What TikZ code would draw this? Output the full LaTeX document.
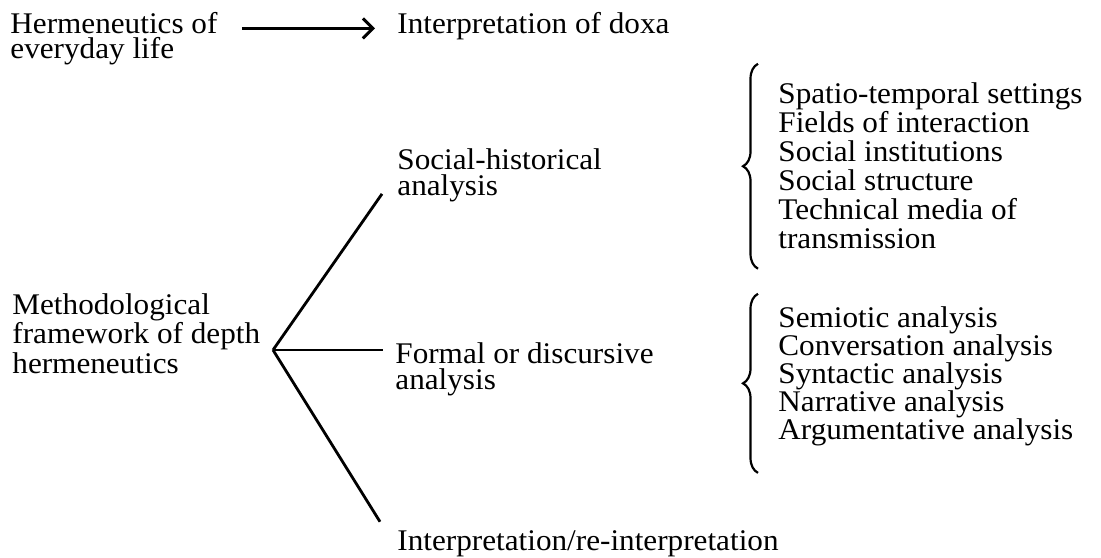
\documentclass[tikz,border=0pt]{standalone}
\usepackage{fontspec}
\setmainfont{Liberation Serif}[FakeStretch=1.04]
\usetikzlibrary{arrows.meta}
\usetikzlibrary{decorations.pathreplacing}

\begin{document}
\begin{tikzpicture}[x=0.5pt, y=-0.5pt,
    txt/.style={anchor=base west, inner sep=0pt, align=left, font=\fontsize{15}{12.5}\selectfont},
    pair/.style={txt, font=\fontsize{15}{13}\selectfont},
    lst/.style={txt, font=\fontsize{15}{14.5}\selectfont},
    branch/.style={line width=1.4pt},
    curly/.style={decorate, decoration={brace, amplitude=7.5pt}, line width=1.1pt},
  ]
  \useasboundingbox (0,0) rectangle (1101,557);

  \node[txt] (everyday) at (10,58) {Hermeneutics of\\everyday life};
  \node[txt] (doxa) at (397,33) {Interpretation of doxa};
  \draw[line width=1.5pt, -{Straight Barb[length=5pt, width=10pt]}]
    ([xshift=12pt]everyday.east |- doxa.mid west) -- ([xshift=-11pt]doxa.mid west);

  \node[txt] (depth) at (12,373) {Methodological\\framework of depth\\hermeneutics};
  \coordinate (fork) at (273,350);

  \node[pair] (shist) at (397,195) {Social-historical\\analysis};
  \node[pair] (formal) at (395,389) {Formal or discursive\\analysis};
  \node[txt] (reint) at (397,550) {Interpretation/re-interpretation};

  \draw[branch] (fork) -- ([shift={(-15,-8)}]shist.south west);
  \draw[branch, shorten >=6pt] (fork) -- (fork -| formal.west);
  \draw[branch] (fork) -- ([shift={(-17,-8)}]reint.north west);

  \node[lst] (shlist) at (778,248) {Spatio-temporal settings\\Fields of interaction\\Social institutions\\Social structure\\Technical media of\\transmission};
  \node[lst, font=\fontsize{15}{14}\selectfont] (fdlist) at (778,439) {Semiotic analysis\\Conversation analysis\\Syntactic analysis\\Narrative analysis\\Argumentative analysis};

  \draw[curly] ([shift={(-20,20)}]shlist.south west) -- ([shift={(-20,-18)}]shlist.north west);
  \draw[curly] ([shift={(-20,27)}]fdlist.south west) -- ([shift={(-20,-12)}]fdlist.north west);

\end{tikzpicture}
\end{document}
